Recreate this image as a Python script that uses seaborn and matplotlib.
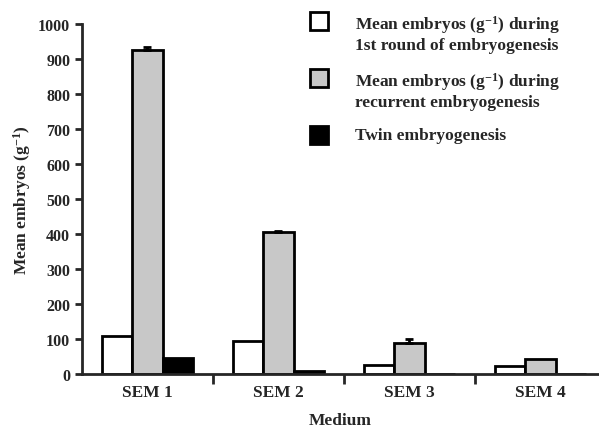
import numpy as np
import pandas as pd
import matplotlib
matplotlib.use("Agg")
import matplotlib.pyplot as plt
from matplotlib.patches import Rectangle
import seaborn as sns

# data
media = ["SEM 1", "SEM 2", "SEM 3", "SEM 4"]
first_round = [110, 95, 27, 22]
recurrent = [925, 405, 88, 42]
twin = [47, 10, 0, 0]
recurrent_err = [8, 4, 12, 0]

series = [
    "Mean embryos (g$^{-1}$) during\n1st round of embryogenesis",
    "Mean embryos (g$^{-1}$) during\nrecurrent embryogenesis",
    "Twin embryogenesis",
]
colors = ["white", "#c8c8c8", "black"]

df = pd.DataFrame({
    "Medium": media * 3,
    "value": first_round + recurrent + twin,
    "series": [series[0]] * 4 + [series[1]] * 4 + [series[2]] * 4,
})

sns.set_style("ticks")
plt.rcParams["font.family"] = ["Liberation Serif", "DejaVu Serif"]
plt.rcParams["font.weight"] = "bold"
plt.rcParams["axes.labelweight"] = "bold"
plt.rcParams["mathtext.default"] = "regular"

W, H = 599, 431
fig = plt.figure(figsize=(W / 100, H / 100), dpi=100)
ax = fig.add_axes([82 / W, 1 - 375 / H, 1 - 82 / W, 350 / H])

sns.barplot(data=df, x="Medium", y="value", hue="series", hue_order=series,
            palette=colors, edgecolor="black",
            linewidth=2, width=0.69, errorbar=None, legend=False, ax=ax)

# one-sided error bars on the recurrent bars
gray_bars = ax.containers[1]
for bar, err in zip(gray_bars, recurrent_err):
    if err > 0:
        xc = bar.get_x() + bar.get_width() / 2
        ax.errorbar(xc, bar.get_height(), yerr=[[0], [err]], fmt="none",
                    ecolor="black", elinewidth=2, capsize=3, capthick=2)

ax.set_ylim(0, 1000)
ax.set_xlim(-0.5, 3.447)
ax.set_yticks(np.arange(0, 1001, 100))
ax.tick_params(axis="y", labelsize=11.5, width=2, length=5, direction="out")
ax.tick_params(axis="x", which="major", length=0, labelsize=12.5, pad=7)
ax.set_xticks([0.5, 1.5, 2.5], minor=True)
ax.tick_params(axis="x", which="minor", length=7, width=2, direction="out")

for s in ["left", "bottom"]:
    ax.spines[s].set_linewidth(2)
sns.despine(ax=ax)

ax.set_ylabel("Mean embryos (g$^{-1}$)", fontsize=12.5, labelpad=4)
ax.set_xlabel("Medium", fontsize=12.5, labelpad=9)

# legend drawn by hand: square aligned with the first text line
tops = [13, 70, 127]
for lab, col, top in zip(series, colors, tops):
    fig.patches.append(Rectangle((310 / W, 1 - (top + 18) / H), 18 / W, 18 / H,
                                 transform=fig.transFigure, facecolor=col,
                                 edgecolor="black", linewidth=2))
    fig.text(355 / W, 1 - (top + 1) / H, lab, fontsize=12.5, va="top",
             ha="left", linespacing=1.15)

fig.savefig("out.png", dpi=100)
